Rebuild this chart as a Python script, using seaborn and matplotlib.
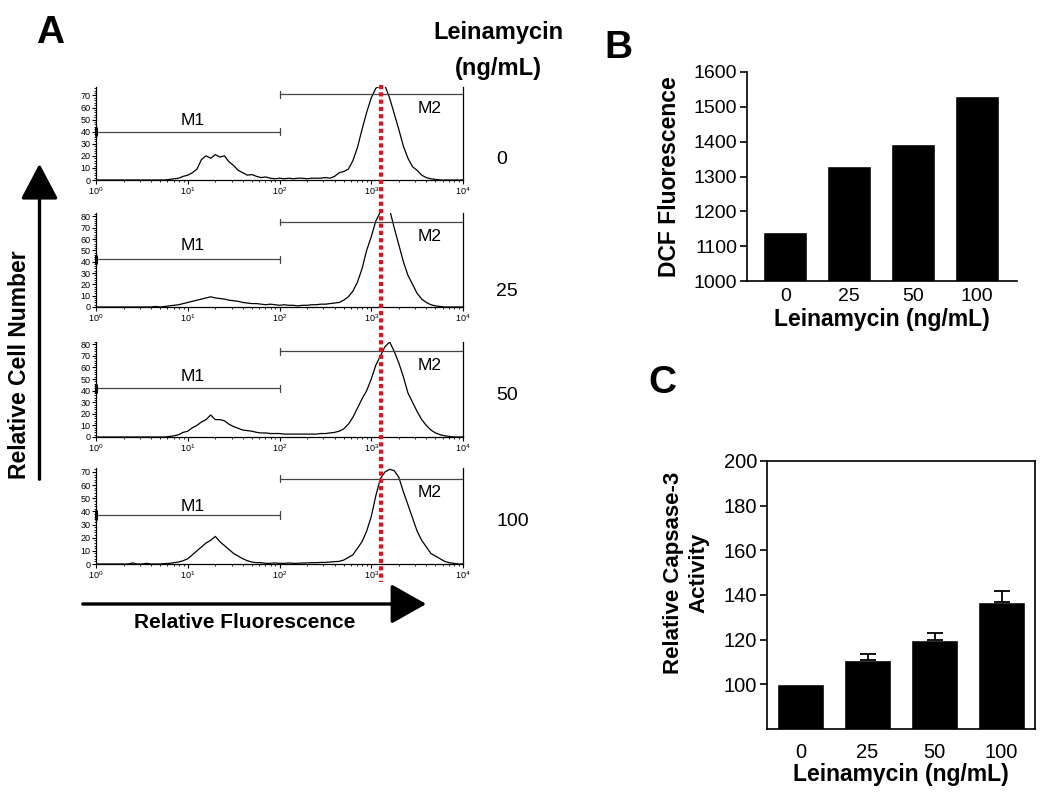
import numpy as np
import pandas as pd
import matplotlib
matplotlib.use("Agg")
import matplotlib.pyplot as plt
import seaborn as sns
from matplotlib.patches import FancyArrowPatch
from matplotlib.lines import Line2D
from matplotlib import transforms, ticker

sns.set_style("ticks")
plt.rcParams['font.family'] = ['Liberation Sans', 'DejaVu Sans']
plt.rcParams['mathtext.fontset'] = 'custom'
plt.rcParams['mathtext.rm'] = 'Liberation Sans'
plt.rcParams['mathtext.it'] = 'Liberation Sans'
for k in ['text.color', 'axes.labelcolor', 'xtick.color', 'ytick.color', 'axes.edgecolor']:
    plt.rcParams[k] = 'black'

# ---------------- data ----------------
concentrations = ["0", "25", "50", "100"]
# histogram bin positions (log10 of fluorescence)
log_fl_bins = np.round(np.arange(0, 4.0001, 0.05), 2)

counts_0 = [0]*16 + [0.5, 1, 1.5, 3, 4, 6, 9, 17, 20, 18, 21, 19, 20, 15, 12, 8, 6, 4, 4.5, 3,
                     2, 2.5, 1.5, 1, 1.5, 1, 1.5, 1, 1.5, 1.5, 1, 1.5, 1.5, 1.5, 2, 1.5, 3, 6, 7, 9,
                     16, 27, 42, 56, 68, 76, 78, 78, 68, 55, 42, 28, 18, 11, 8, 4, 2, 1, 0.5] + [0]*6
counts_25 = [0]*12 + [0, 0.5, 0, 0.5, 1, 1.5, 2, 3, 4, 5, 6, 7, 8, 9, 8, 7.5, 7, 6, 5.5, 5, 4, 3.5,
                      3, 3, 2.5, 2, 2.5, 2, 1.5, 2, 1.5, 1.5, 1, 1.5, 1.5, 2, 2, 2.5, 2.5, 3, 3.5, 4,
                      6, 9, 14, 22, 34, 50, 62, 76, 84, 86, 86, 70, 55, 40, 28, 20, 12, 7, 4, 2, 1,
                      0.5] + [0]*5
counts_50 = [0]*16 + [0.5, 1, 2, 4, 5, 8, 10, 13, 15, 19, 15, 15, 14, 11, 9, 7.5, 6, 5.5, 5, 4, 3.5,
                      3.5, 3, 3, 3, 2.5, 2.5, 2.5, 2.5, 2.5, 2.5, 2.5, 2.5, 3, 3, 3.5, 4, 5, 7, 11,
                      17, 25, 33, 40, 50, 62, 70, 78, 82, 74, 64, 52, 38, 30, 22, 15, 10, 6, 3.5, 2,
                      1, 0.5] + [0]*3
counts_100 = [0]*8 + [0.8, 0, 0, 0.5, 0, 0, 0, 0.3, 0.5, 1, 1.5, 2.5, 4, 7, 10, 13, 16, 18, 21, 17,
                      14, 11, 8, 6, 4, 2.5, 1.5, 1, 1, 0.5, 0.5, 0.8, 0.5, 0.5, 0.8, 0.5, 0.5, 0.8,
                      0.8, 1, 1, 1.2, 1.2, 1.5, 1.8, 2, 3, 5, 7, 12, 17, 25, 36, 52, 65, 70, 72, 71,
                      66, 55, 45, 35, 25, 18, 13, 8, 6, 4, 2, 1, 0.5, 0, 0]
hist_counts = [counts_0, counts_25, counts_50, counts_100]

hist_ymax = [77, 83, 82, 73]
hist_top_tick = [70, 80, 80, 70]
gate_m1 = [40, 42, 42, 37]
gate_m2 = [71, 75, 74, 65]
m1_label_y = [49, 54, 52, 44]
m2_label_y = [59, 62, 62, 54]
mean_marker_log = 3.11

dcf_fluorescence = [1140, 1330, 1393, 1530]
caspase_activity = [100, 111, 120, 137]
caspase_err = [0, 2.8, 3.2, 5.0]

# ---------------- figure ----------------
W, H = 1050, 802
fig = plt.figure(figsize=(W / 100, H / 100), dpi=100)


def rect(x0, y0, x1, y1):
    return [x0 / W, 1 - y1 / H, (x1 - x0) / W, (y1 - y0) / H]


def fx(x):
    return x / W


def fy(y):
    return 1 - y / H


gate_color = '#444444'
hist_boxes = [(96, 87, 463, 180), (96, 213, 463, 307), (96, 342, 463, 437), (96, 468, 463, 564)]
hist_axes = []
for i, box in enumerate(hist_boxes):
    ax = fig.add_axes(rect(*box))
    hist_axes.append(ax)
    sns.lineplot(x=10 ** log_fl_bins, y=hist_counts[i], ax=ax, color='black', lw=0.9)
    ax.set_xscale('log')
    ax.set_xlim(1, 1e4)
    ax.set_ylim(0, hist_ymax[i])
    ax.set_yticks(range(0, hist_top_tick[i] + 1, 10))
    ax.yaxis.set_minor_locator(ticker.MultipleLocator(2))
    ax.xaxis.set_major_locator(ticker.LogLocator(base=10, numticks=10))
    ax.xaxis.set_minor_locator(ticker.LogLocator(base=10, subs=np.arange(2, 10), numticks=50))
    ax.xaxis.set_major_formatter(ticker.FuncFormatter(
        lambda v, p: r'10$^{%d}$' % int(round(np.log10(v)))))
    ax.xaxis.set_minor_formatter(ticker.NullFormatter())
    ax.spines['top'].set_visible(False)
    for s in ['left', 'bottom', 'right']:
        ax.spines[s].set_linewidth(0.9)
    ax.tick_params(which='major', labelsize=6.5, length=3, width=0.8, pad=1)
    ax.tick_params(which='minor', length=1.6, width=0.6)
    ax.set_xlabel('')
    ax.set_ylabel('')
    # gates M1 and M2
    m1, m2 = gate_m1[i], gate_m2[i]
    ax.plot([1, 100], [m1, m1], color=gate_color, lw=0.9, clip_on=False)
    ax.plot([1, 1], [m1 - 3, m1 + 3], color='black', lw=2.2, clip_on=False)
    ax.plot([100, 100], [m1 - 3, m1 + 3], color=gate_color, lw=0.9)
    ax.plot([100, 1e4], [m2, m2], color=gate_color, lw=0.9, clip_on=False)
    ax.plot([100, 100], [m2 - 3, m2 + 3], color=gate_color, lw=0.9)
    ax.text(10 ** 1.05, m1_label_y[i], 'M1', fontsize=12.5, ha='center', va='center')
    ax.text(10 ** 3.64, m2_label_y[i], 'M2', fontsize=12.5, ha='center', va='center')

# red dotted mean marker across all histograms
trans = transforms.blended_transform_factory(hist_axes[0].transData, fig.transFigure)
fig.add_artist(Line2D([10 ** mean_marker_log] * 2, [fy(85), fy(582)], transform=trans,
                      color='#e8101a', lw=3, linestyle=(0, (1, 0.75))))

# concentration labels
conc_label_y = [160, 292, 395, 522]
for c, yy in zip(concentrations, conc_label_y):
    fig.text(fx(496), fy(yy), c, fontsize=14, ha='left', va='center')
fig.text(fx(498), fy(33), 'Leinamycin', fontsize=17, fontweight='bold', ha='center', va='center')
fig.text(fx(498), fy(68), '(ng/mL)', fontsize=17, fontweight='bold', ha='center', va='center')

# arrows
fig.add_artist(FancyArrowPatch((fx(39.5), fy(482)), (fx(39.5), fy(161)), transform=fig.transFigure,
                               arrowstyle='-|>,head_length=1.1,head_width=0.58', mutation_scale=20,
                               lw=2.4, color='black'))
fig.add_artist(FancyArrowPatch((fx(80), fy(604)), (fx(429), fy(604)), transform=fig.transFigure,
                               arrowstyle='-|>,head_length=1.1,head_width=0.62', mutation_scale=20,
                               lw=2.4, color='black'))
fig.text(fx(20), fy(365), 'Relative Cell Number', rotation=90, fontsize=16.5, fontweight='bold',
         ha='center', va='center')
fig.text(fx(245), fy(622), 'Relative Fluorescence', fontsize=15, fontweight='bold',
         ha='center', va='center')

# panel letters
fig.text(fx(50), fy(33), 'A', fontsize=28, fontweight='bold', ha='center', va='center')
fig.text(fx(618), fy(48), 'B', fontsize=28, fontweight='bold', ha='center', va='center')
fig.text(fx(662), fy(383), 'C', fontsize=28, fontweight='bold', ha='center', va='center')

# ---------------- panel B ----------------
axB = fig.add_axes(rect(747, 72, 1017, 281))
dfB = pd.DataFrame({'conc': concentrations, 'dcf': dcf_fluorescence})
sns.barplot(data=dfB, x='conc', y='dcf', order=concentrations, color='black', saturation=1,
            width=0.69, ax=axB, errorbar=None)
axB.set_ylim(1000, 1600)
axB.set_xlim(-0.6, 3.63)
axB.set_yticks(range(1000, 1601, 100))
sns.despine(ax=axB)
for s in ['left', 'bottom']:
    axB.spines[s].set_linewidth(1.2)
axB.tick_params(axis='y', labelsize=14, length=5, width=1.2, pad=2)
axB.tick_params(axis='x', labelsize=14, length=0, pad=5)
axB.set_ylabel('')
axB.set_xlabel('Leinamycin (ng/mL)', fontsize=16.5, fontweight='bold', labelpad=2)
fig.text(fx(669), fy(177), 'DCF Fluorescence', rotation=90, fontsize=16.5, fontweight='bold',
         ha='center', va='center')

# ---------------- panel C ----------------
axC = fig.add_axes(rect(767, 461, 1035, 729))
dfC = pd.DataFrame({'conc': concentrations, 'act': caspase_activity})
sns.barplot(data=dfC, x='conc', y='act', order=concentrations, color='black', saturation=1,
            width=0.69, ax=axC, errorbar=None)
has_err = [k for k, e in enumerate(caspase_err) if e > 0]
axC.errorbar(x=has_err, y=[caspase_activity[k] for k in has_err],
             yerr=[np.zeros(len(has_err)), [caspase_err[k] for k in has_err]], fmt='none',
             ecolor='black', elinewidth=1.3, capsize=6, capthick=1.3)
axC.set_ylim(80, 200)
axC.set_xlim(-0.5, 3.5)
axC.set_yticks(range(100, 201, 20))
for s in axC.spines.values():
    s.set_linewidth(1.2)
axC.tick_params(axis='y', labelsize=14.5, length=5, width=1.2, pad=2)
axC.tick_params(axis='x', labelsize=14.5, length=0, pad=10)
axC.set_ylabel('')
axC.set_xlabel('Leinamycin (ng/mL)', fontsize=16.5, fontweight='bold', labelpad=1)
fig.text(fx(686), fy(573), 'Relative Capsase-3\nActivity', rotation=90, fontsize=16,
         fontweight='bold', ha='center', va='center', linespacing=1.25)

fig.savefig('out.png', dpi=100)
